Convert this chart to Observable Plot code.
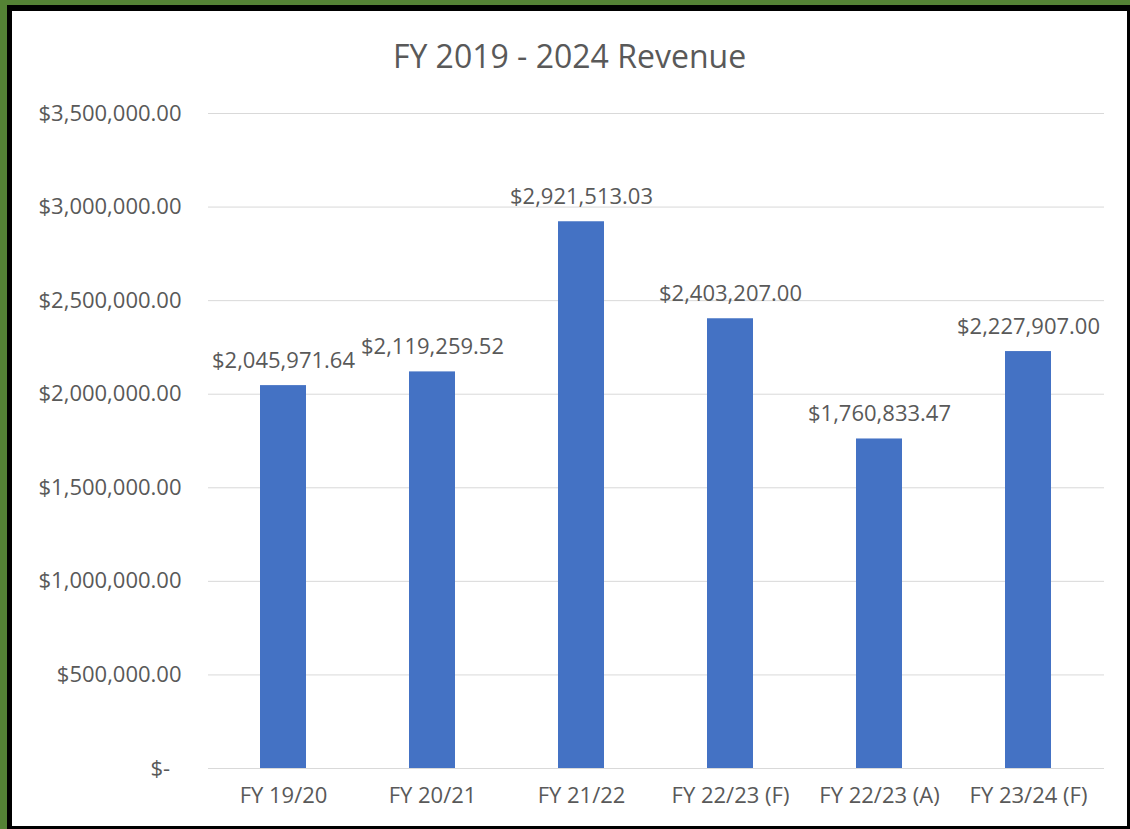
<!DOCTYPE html>
<html><head><meta charset="utf-8">
<script src="https://cdn.jsdelivr.net/npm/d3@7"></script>
<script src="https://cdn.jsdelivr.net/npm/@observablehq/plot@0.6"></script>
<style>
html,body{margin:0;padding:0;width:1130px;height:829px;overflow:hidden;background:#548235;}
#frame{position:absolute;left:7px;top:5px;width:1115px;height:815px;border-style:solid;border-color:#000;border-width:6px 3px 3px 5px;background:#fff;}
#title{position:absolute;left:0;top:25px;width:1115px;text-align:center;font-family:'Open Sans',sans-serif;font-size:32px;color:#595959;line-height:40px;}
#chart{position:absolute;left:0;top:69px;}
</style></head>
<body>
<div id="frame">
  <div id="title">FY 2019 - 2024 Revenue</div>
  <div id="chart"></div>
</div>
<script>
const categories = ["FY 19/20", "FY 20/21", "FY 21/22", "FY 22/23 (F)", "FY 22/23 (A)", "FY 23/24 (F)"];
const revenue = [2045971.64, 2119259.52, 2921513.03, 2403207.00, 1760833.47, 2227907.00];
const yTicks = [0, 500000, 1000000, 1500000, 2000000, 2500000, 3000000, 3500000];

const data = categories.map((c, i) => ({category: c, revenue: revenue[i]}));
const fmt = d3.format("$,.2f");
const tickFmt = v => v === 0 ? "$-\u00A0\u00A0" : fmt(v);

const chart = Plot.plot({
  width: 1115,
  height: 746,
  marginLeft: 196,
  marginRight: 23,
  marginTop: 33,
  marginBottom: 58,
  style: {fontFamily: "'Open Sans', sans-serif", fontSize: "22px", color: "#595959", background: "transparent", overflow: "visible"},
  x: {domain: categories, paddingInner: 0.69, paddingOuter: 0.345, label: null, tickSize: 0, tickPadding: 19},
  y: {domain: [0, 3500000], ticks: yTicks, tickFormat: tickFmt, label: null, tickSize: 0, tickPadding: 27},
  marks: [
    Plot.ruleY(yTicks, {stroke: "#d9d9d9", strokeWidth: 1}),
    Plot.barY(data, {x: "category", y: "revenue", fill: "#4472c4"}),
    Plot.text(data, {x: "category", y: "revenue", text: d => fmt(d.revenue), dy: -18, lineAnchor: "bottom", fill: "#595959", fontSize: 22})
  ]
});
document.getElementById("chart").appendChild(chart);
</script>
</body></html>
